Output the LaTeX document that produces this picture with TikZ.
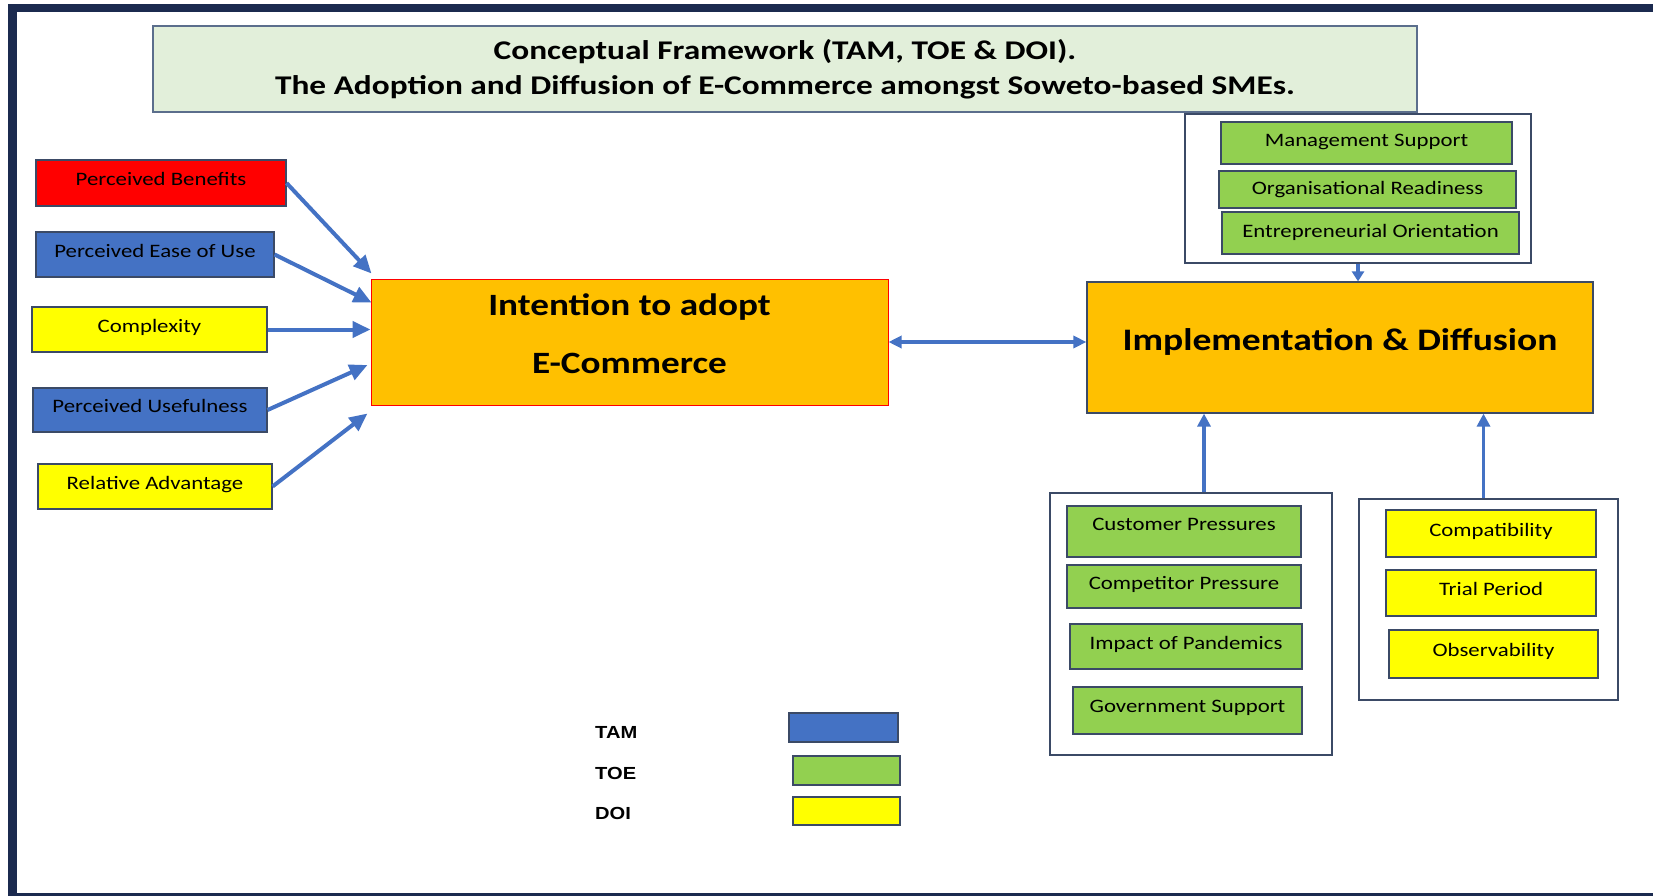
\documentclass[tikz,border=0pt]{standalone}
\usepackage{fontspec}
\usetikzlibrary{arrows.meta,calc}
\newfontfamily\carl{Carlito}[FakeStretch=1.2]
\newfontfamily\carlwide{Carlito}[FakeStretch=1.235]
\newfontfamily\arl{Liberation Sans}[FakeStretch=1.15]
\definecolor{navy}{HTML}{1B2A4F}
\definecolor{edge}{HTML}{3B4A66}
\definecolor{titlefill}{HTML}{E2EFDA}
\definecolor{titleedge}{HTML}{5B6E8C}
\definecolor{tamblue}{HTML}{4472C4}
\definecolor{toegreen}{HTML}{92D050}
\definecolor{doiyellow}{HTML}{FFFF00}
\definecolor{core}{HTML}{FFC000}
\definecolor{flow}{HTML}{4472C4}
\begin{document}
\begin{tikzpicture}[x=1pt,y=-1pt,
  tag/.style={draw=edge, line width=1.1pt, inner sep=0pt,
    font=\carl\fontsize{19}{22}\selectfont, text height=12pt, text depth=7pt},
  group/.style={draw=edge, line width=1.1pt, fill=white, inner sep=0pt},
  core box/.style={fill=core, inner sep=0pt,
    font=\carl\bfseries\fontsize{31}{58}\selectfont, align=center},
  legtxt/.style={anchor=base west, inner sep=0pt, font=\arl\bfseries\fontsize{17.5}{20}\selectfont},
  inflow/.style={draw=flow, line width=4pt, -{Triangle[length=18pt,width=16pt]}},
  thin flow/.style={draw=flow, line width=3.2pt, -{Triangle[length=13pt,width=13pt]}}
]
\useasboundingbox (0,0) rectangle (1653,896);

% page frame
\fill[navy] (8,4) rectangle (1653,12);
\fill[navy] (8,4) rectangle (17,896);
\fill[navy] (8,893) rectangle (1653,896);

% heading
\node[draw=titleedge, line width=1.4pt, fill=titlefill, minimum width=1264, minimum height=86,
  align=center, font=\carlwide\bfseries\fontsize{27}{35}\selectfont] (title) at (785,69)
  {Conceptual Framework (TAM, TOE \& DOI).\\The Adoption and Diffusion of E-Commerce amongst Soweto-based SMEs.};

% antecedents of intention
\node[tag, fill=red, minimum width=250, minimum height=46] (pb) at (161,183) {Perceived Benefits};
\node[tag, fill=tamblue, minimum width=238, minimum height=45] (peou) at (155,254.5) {Perceived Ease of Use};
\node[tag, fill=doiyellow, minimum width=235, minimum height=45] (cx) at (149.5,329.5) {Complexity};
\node[tag, fill=tamblue, minimum width=234, minimum height=44] (pu) at (150,410) {Perceived Usefulness};
\node[tag, fill=doiyellow, minimum width=234, minimum height=45] (ra) at (155,486.5) {Relative Advantage};

% core constructs
\node[core box, draw=red, line width=1pt, minimum width=517, minimum height=126,
  text height=80pt, text depth=18pt] (int) at (629.5,342) {Intention to adopt\\E-Commerce};
\node[core box, draw=edge, line width=1.2pt, minimum width=506, minimum height=131,
  font=\carl\bfseries\fontsize{31.3}{36}\selectfont, text height=20pt, text depth=15pt] (impl) at (1340,347.5)
  {Implementation \& Diffusion};

% organisational factors
\node[group, minimum width=346, minimum height=149] (tg) at (1358,188.5) {};
\node[tag, fill=toegreen, minimum width=291, minimum height=42, text depth=4pt] (mgmt) at (1366.5,143) {Management Support};
\node[tag, fill=toegreen, minimum width=297, minimum height=37, text depth=2pt] (org) at (1367.5,189.5) {Organisational Readiness};
\node[tag, fill=toegreen, minimum width=297, minimum height=42, text depth=4pt] (ent) at (1370.5,233) {Entrepreneurial Orientation};

% environmental factors
\node[group, minimum width=282, minimum height=262] (lg) at (1191,624) {};
\node[tag, fill=toegreen, minimum width=234, minimum height=51, text depth=15pt] (cust) at (1184,531.5) {Customer Pressures};
\node[tag, fill=toegreen, minimum width=234, minimum height=43] (comp) at (1184,586.5) {Competitor Pressure};
\node[tag, fill=toegreen, minimum width=232, minimum height=45] (pand) at (1186,646.5) {Impact of Pandemics};
\node[tag, fill=toegreen, minimum width=229, minimum height=47, text depth=9pt] (gov) at (1187.5,710.5) {Government Support};

% innovation attributes
\node[group, minimum width=259, minimum height=201] (rg) at (1488.5,599.5) {};
\node[tag, fill=doiyellow, minimum width=210, minimum height=47] (compat) at (1491,533.5) {Compatibility};
\node[tag, fill=doiyellow, minimum width=210, minimum height=46, text depth=8pt] (trial) at (1491,593) {Trial Period};
\node[tag, fill=doiyellow, minimum width=209, minimum height=48, text depth=8pt] (obs) at (1493.5,654) {Observability};

% key
\node[legtxt] (ktam) at (595,738) {TAM};
\node[legtxt] (ktoe) at (595,779) {TOE};
\node[legtxt] (kdoi) at (595,819) {DOI};
\node[tag, fill=tamblue, minimum width=109, minimum height=29] (btam) at (843.5,727.5) {};
\node[tag, fill=toegreen, minimum width=107, minimum height=29] (btoe) at (846.5,770.5) {};
\node[tag, fill=doiyellow, minimum width=107, minimum height=28] (bdoi) at (846.5,811) {};

% connectors into intention
\draw[inflow] (pb.east) -- ($(int.north west)+(1,-5)$);
\draw[inflow] (peou.east) -- ($(int.north west)+(1,24)$);
\draw[inflow] (cx.east) -- (cx.east -| int.west);
\draw[inflow] (pu.east) -- ($(int.west)+(-3,23)$);
\draw[inflow] (ra.east) -- ($(int.south west)+(-3,8)$);

% intention <-> implementation
\draw[draw=flow, line width=3.2pt, {Triangle[length=13pt,width=12pt]}-{Triangle[length=13pt,width=12pt]}]
  (int.east) -- (int.east -| impl.west);

% factor groups into implementation
\coordinate (lgout) at ($(lg.north)+(13,0)$);
\coordinate (rgout) at ($(rg.north)+(-5,0)$);
\draw[thin flow, -{Triangle[length=10pt,width=12pt]}] (tg.south) -- (tg.south |- impl.north);
\draw[thin flow] (lgout) -- (lgout |- impl.south);
\draw[thin flow] (rgout) -- (rgout |- impl.south);
\end{tikzpicture}
\end{document}
